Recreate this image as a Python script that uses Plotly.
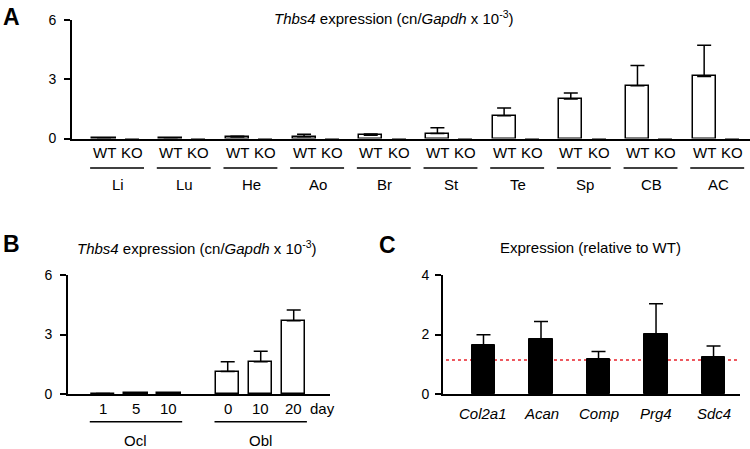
import plotly.graph_objects as go

# ---------------- data ----------------
tissues = ["Li", "Lu", "He", "Ao", "Br", "St", "Te", "Sp", "CB", "AC"]
genotypes = ["WT", "KO"]
a_wt_mean = [0.02, 0.03, 0.08, 0.09, 0.17, 0.25, 1.15, 2.00, 2.67, 3.14]
a_wt_sem = [0.01, 0.01, 0.03, 0.12, 0.06, 0.30, 0.39, 0.30, 1.03, 1.58]
a_ko_mean = [0, 0, 0, 0, 0, 0, 0, 0, 0, 0]
a_ko_sem = [0, 0, 0, 0, 0, 0, 0, 0, 0, 0]

b_groups = ["Ocl", "Obl"]
b_days = [["1", "5", "10"], ["0", "10", "20"]]
b_mean = [[0.02, 0.04, 0.03], [1.13, 1.62, 3.69]]
b_sem = [[0.01, 0.01, 0.01], [0.49, 0.54, 0.54]]

c_genes = ["Col2a1", "Acan", "Comp", "Prg4", "Sdc4"]
c_mean = [1.64, 1.85, 1.16, 2.01, 1.23]
c_sem = [0.35, 0.59, 0.27, 1.02, 0.38]
c_ref = 1.14

a_ticks = [0, 3, 6]
b_ticks = [0, 3, 6]
c_ticks = [0, 2, 4]

# ---------------- layout helpers ----------------
W, H = 750, 449
FONT = "Liberation Sans, Arial, sans-serif"


def py(px):
    return 1 - px / H


fig = go.Figure()
err_style = dict(type="data", symmetric=False, color="black", thickness=1.5, width=7)

# Panel A positions
a_step = 2.4
a_wt_x = [i * a_step for i in range(len(tissues))]
a_ko_x = [i * a_step + 1 for i in range(len(tissues))]
fig.add_trace(go.Bar(x=a_wt_x, y=a_wt_mean, width=0.83, xaxis="x", yaxis="y",
                     marker=dict(color="white", line=dict(color="black", width=1.5)),
                     error_y=dict(array=a_wt_sem, arrayminus=[0] * len(a_wt_sem), **err_style),
                     showlegend=False))
fig.add_trace(go.Bar(x=a_ko_x, y=a_ko_mean, width=0.83, xaxis="x", yaxis="y",
                     marker=dict(color="white", line=dict(color="black", width=0)),
                     error_y=dict(array=a_ko_sem, arrayminus=[0] * len(a_ko_sem), **err_style),
                     showlegend=False))

# Panel B positions
b_gap = 3.78
b_x = [[g * b_gap + j for j in range(len(b_days[g]))] for g in range(len(b_groups))]
bx_flat = [v for row in b_x for v in row]
bm_flat = [v for row in b_mean for v in row]
bs_flat = [v for row in b_sem for v in row]
fig.add_trace(go.Bar(x=bx_flat, y=bm_flat, width=0.7, xaxis="x2", yaxis="y2",
                     marker=dict(color="white", line=dict(color="black", width=1.5)),
                     error_y=dict(array=bs_flat, arrayminus=[0] * len(bs_flat), **err_style),
                     showlegend=False))

# Panel C
c_x = list(range(len(c_genes)))
fig.add_trace(go.Bar(x=c_x, y=c_mean, width=0.41, xaxis="x3", yaxis="y3",
                     marker=dict(color="black", line=dict(color="black", width=1)),
                     error_y=dict(array=c_sem, arrayminus=[0] * len(c_sem), **err_style),
                     showlegend=False))

axis_common = dict(showgrid=False, zeroline=False, showline=True, linecolor="black",
                   linewidth=2, fixedrange=True, automargin=False)
yaxis_common = dict(axis_common, ticks="outside", ticklen=6, tickwidth=1.5, tickcolor="black",
                    tickfont=dict(size=14, color="black", family=FONT))
xaxis_common = dict(axis_common, ticks="", showticklabels=False)

fig.update_layout(
    template="none",
    width=W, height=H, margin=dict(l=0, r=0, t=0, b=0, pad=0, autoexpand=False),
    paper_bgcolor="white", plot_bgcolor="white",
    font=dict(family=FONT, color="black", size=14),
    bargap=0,
    xaxis=dict(xaxis_common, domain=[72 / W, 1.0], range=[-1.152, 23.25], anchor="y"),
    yaxis=dict(yaxis_common, domain=[py(138.5), py(20)], range=[0, 6], tickvals=a_ticks,
               anchor="x", ticklabelstandoff=5),
    xaxis2=dict(xaxis_common, domain=[68 / W, 330 / W], range=[-1.06, 6.88], anchor="y2"),
    yaxis2=dict(yaxis_common, domain=[py(394), py(275)], range=[0, 6], tickvals=b_ticks,
                anchor="x2", ticklabelstandoff=5),
    xaxis3=dict(xaxis_common, domain=[443 / W, 740 / W], range=[-0.704, 4.46], anchor="y3"),
    yaxis3=dict(yaxis_common, domain=[py(394), py(275)], range=[0, 4], tickvals=c_ticks,
                anchor="x3", ticklabelstandoff=3),
)

ann = []
shapes = []

# Panel letters
for letter, x, y in [("A", 11, 17), ("B", 11.5, 244), ("C", 387, 245)]:
    ann.append(dict(text=f"<b>{letter}</b>", x=x / W, y=py(y), xref="paper", yref="paper",
                    showarrow=False, font=dict(size=23, family=FONT), xanchor="center", yanchor="middle"))

# Titles
title_thbs = "<i>Thbs4</i> expression (cn/<i>Gapdh</i> x 10<sup>-3</sup>)"
ann.append(dict(text=title_thbs, x=394 / W, y=py(18), xref="paper", yref="paper", showarrow=False,
                font=dict(size=15), xanchor="center", yanchor="middle"))
ann.append(dict(text=title_thbs, x=197 / W, y=py(247), xref="paper", yref="paper", showarrow=False,
                font=dict(size=15), xanchor="center", yanchor="middle"))
ann.append(dict(text="Expression (relative to WT)", x=590 / W, y=py(248), xref="paper", yref="paper",
                showarrow=False, font=dict(size=15), xanchor="center", yanchor="middle"))

# Panel A x labels
for i, t in enumerate(tissues):
    for xx, g in zip([a_wt_x[i], a_ko_x[i]], genotypes):
        ann.append(dict(text=g, x=xx, y=py(153), xref="x", yref="paper", showarrow=False,
                        font=dict(size=15), xanchor="center", yanchor="middle"))
    ann.append(dict(text=t, x=(a_wt_x[i] + a_ko_x[i]) / 2, y=py(184.5), xref="x", yref="paper",
                    showarrow=False, font=dict(size=15), xanchor="center", yanchor="middle"))
    shapes.append(dict(type="line", xref="x", yref="paper", x0=a_wt_x[i] - 0.5, x1=a_ko_x[i] + 0.44,
                       y0=py(168), y1=py(168), line=dict(color="black", width=1.5)))

# Panel B x labels
for g, grp in enumerate(b_groups):
    for xx, d in zip(b_x[g], b_days[g]):
        ann.append(dict(text=d, x=xx, y=py(408), xref="x2", yref="paper", showarrow=False,
                        font=dict(size=15), xanchor="center", yanchor="middle"))
    ann.append(dict(text=grp, x=(b_x[g][0] + b_x[g][-1]) / 2, y=py(440), xref="x2", yref="paper",
                    showarrow=False, font=dict(size=15), xanchor="center", yanchor="middle"))
    shapes.append(dict(type="line", xref="x2", yref="paper", x0=b_x[g][0] - 0.4, x1=b_x[g][-1] + 0.4,
                       y0=py(421.7), y1=py(421.7), line=dict(color="black", width=1.5)))
ann.append(dict(text="day", x=b_x[-1][-1] + 0.86, y=py(408), xref="x2", yref="paper", showarrow=False,
                font=dict(size=15), xanchor="center", yanchor="middle"))

# Panel C x labels
for xx, gname in zip(c_x, c_genes):
    ann.append(dict(text=f"<i>{gname}</i>", x=xx, y=py(413), xref="x3", yref="paper", showarrow=False,
                    font=dict(size=15), xanchor="center", yanchor="middle"))

# reference line in C
shapes.append(dict(type="line", xref="x3 domain", yref="y3", x0=0.01, x1=1.0, y0=c_ref, y1=c_ref,
                   line=dict(color="#e8202a", width=1.5, dash="dot"), layer="below"))

fig.update_layout(annotations=ann, shapes=shapes)
fig.write_html("out.html", config={"displayModeBar": False},
               post_script="document.body.style.margin='0';document.body.style.overflow='hidden';")
